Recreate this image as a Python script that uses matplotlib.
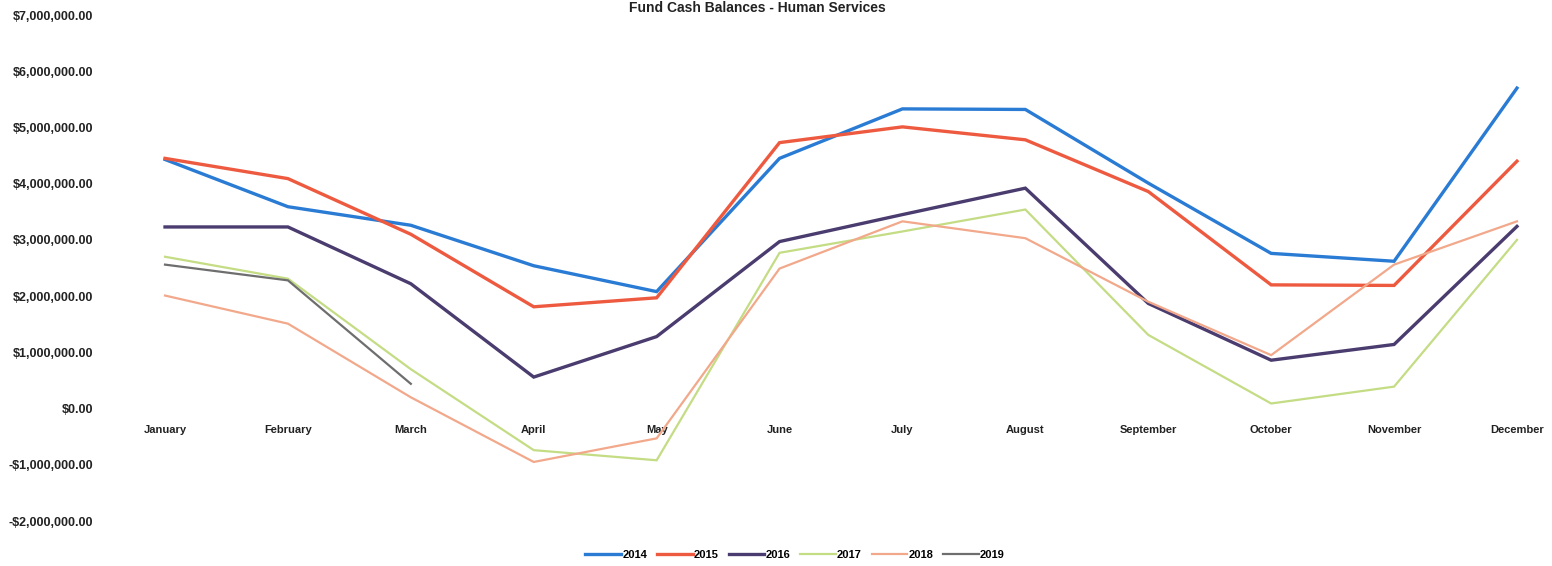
import matplotlib
matplotlib.use("Agg")
import matplotlib.pyplot as plt
from matplotlib.ticker import FuncFormatter

plt.rcParams['font.family'] = ['Liberation Sans', 'DejaVu Sans']

# Monthly fund cash balances, in dollars
months = ['January', 'February', 'March', 'April', 'May', 'June', 'July',
          'August', 'September', 'October', 'November', 'December']

bal_2014 = [4.43e6, 3.59e6, 3.26e6, 2.54e6, 2.08e6, 4.45e6, 5.33e6, 5.32e6,
            4.01e6, 2.76e6, 2.62e6, 5.70e6]
bal_2015 = [4.45e6, 4.09e6, 3.10e6, 1.81e6, 1.97e6, 4.73e6, 5.01e6, 4.78e6,
            3.86e6, 2.20e6, 2.19e6, 4.40e6]
bal_2016 = [3.23e6, 3.23e6, 2.22e6, 0.56e6, 1.28e6, 2.97e6, 3.45e6, 3.92e6,
            1.87e6, 0.86e6, 1.14e6, 3.24e6]
bal_2017 = [2.70e6, 2.31e6, 0.70e6, -0.74e6, -0.92e6, 2.77e6, 3.15e6, 3.54e6,
            1.31e6, 0.09e6, 0.39e6, 3.00e6]
bal_2018 = [2.01e6, 1.51e6, 0.20e6, -0.95e6, -0.53e6, 2.49e6, 3.33e6, 3.03e6,
            1.90e6, 0.95e6, 2.56e6, 3.33e6]
bal_2019 = [2.56e6, 2.28e6, 0.44e6]

years = ['2014', '2015', '2016', '2017', '2018', '2019']
series = [bal_2014, bal_2015, bal_2016, bal_2017, bal_2018, bal_2019]
colors = ['#2A7BD4', '#EE5A40', '#4A3C6E', '#C4DC84', '#F2A88A', '#6E6E6E']
widths = [2.4, 2.4, 2.4, 1.6, 1.6, 1.6]

fig = plt.figure(figsize=(15.52, 5.66), dpi=100)
ax = fig.add_axes([100 / 1552, 45 / 566, 1452 / 1552, 506 / 566])

x = list(range(len(months)))
for name, vals, c, lw in zip(years, series, colors, widths):
    ax.plot(x[:len(vals)], vals, color=c, linewidth=lw, label=name,
            solid_joinstyle='miter')

ax.set_xlim(-0.529, 11.285)
ax.set_ylim(-2e6, 7e6)
ax.set_yticks([i * 1e6 for i in range(-2, 8)])
ax.yaxis.set_major_formatter(FuncFormatter(
    lambda v, p: f"-${abs(v):,.2f}" if v < 0 else f"${v:,.2f}"))

# category labels sit just under the zero line
ax.set_xticks(x)
ax.set_xticklabels(months)
ax.spines['bottom'].set_position(('data', 0))
for s in ['top', 'right', 'left', 'bottom']:
    ax.spines[s].set_color('none')
ax.tick_params(axis='y', length=0, pad=5, labelsize=9, colors='#222222')
ax.tick_params(axis='x', length=0, pad=12, labelsize=8, colors='#222222')
for lbl in ax.get_yticklabels() + ax.get_xticklabels():
    lbl.set_fontweight('bold')

fig.text(757 / 1552, 1 - 1 / 566, 'Fund Cash Balances - Human Services',
         ha='center', va='top', fontsize=10, fontweight='bold',
         color='#222222')

leg = fig.legend(loc='center', bbox_to_anchor=(795 / 1552, 1 - 555 / 566),
                 ncol=6, frameon=False, handlelength=3.2, handletextpad=0.1,
                 columnspacing=0.9, prop={'size': 8, 'weight': 'bold'})

fig.savefig('out.png', dpi=100, facecolor='white')
